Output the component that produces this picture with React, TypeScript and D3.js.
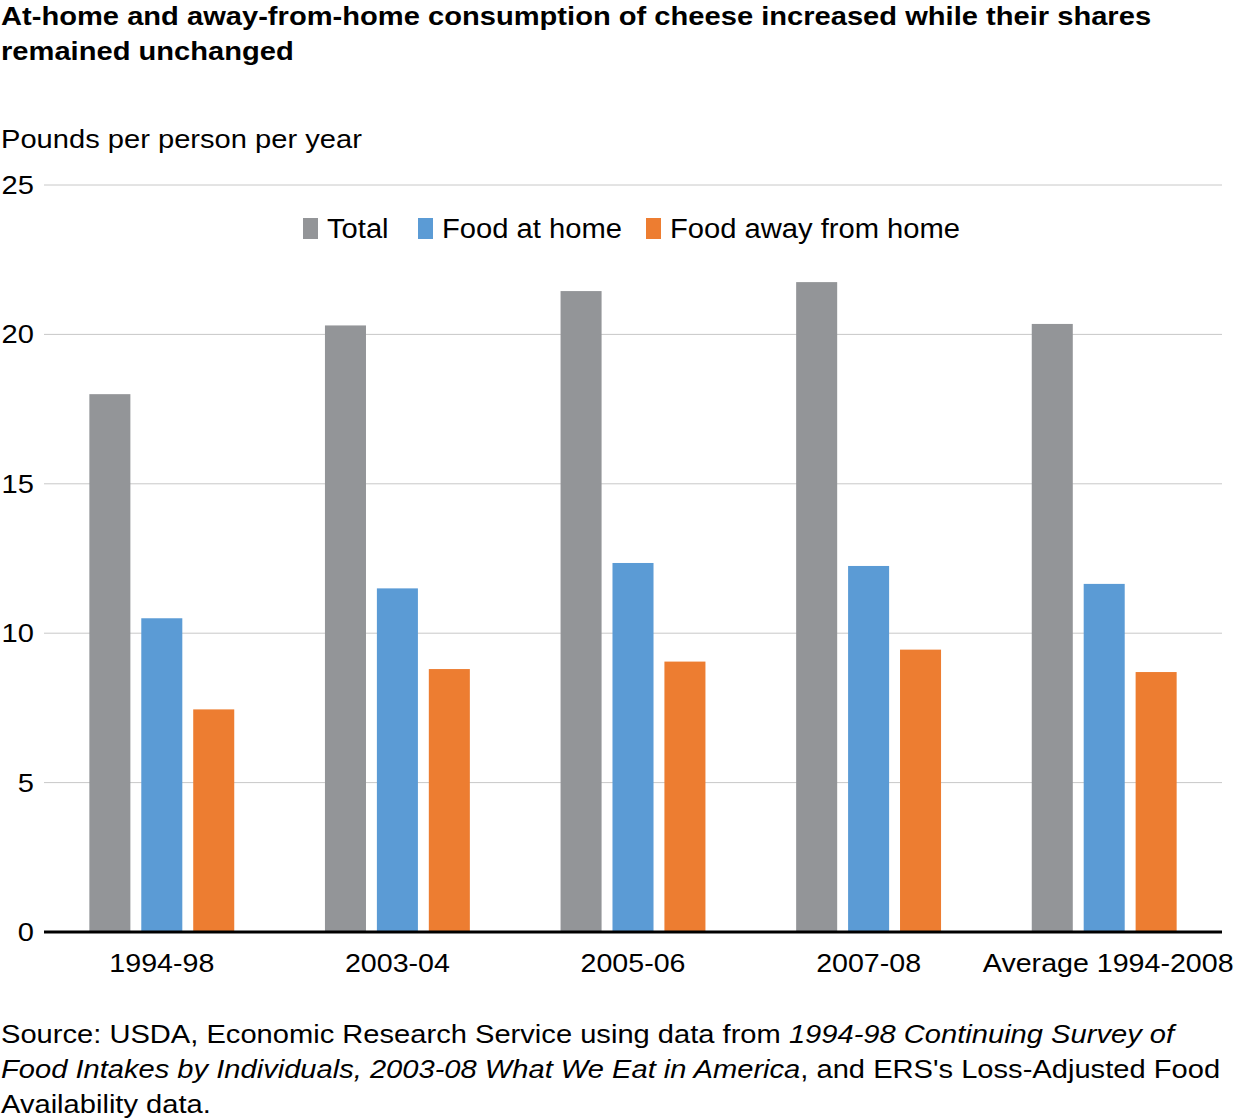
import React, { useEffect, useRef } from 'react';
import * as d3 from 'd3';

const categories = ['1994-98', '2003-04', '2005-06', '2007-08', 'Average 1994-2008'];
const seriesNames = ['Total', 'Food at home', 'Food away from home'];
const totalValues = [18.0, 20.3, 21.45, 21.75, 20.35];
const homeValues = [10.5, 11.5, 12.35, 12.25, 11.65];
const awayValues = [7.45, 8.8, 9.05, 9.45, 8.7];
const yTicks = [0, 5, 10, 15, 20, 25];
const colors = ['#939598', '#5b9bd5', '#ed7d31'];

// reference font is wider than Liberation Sans, so text gets stretched a bit
const SX = 1.12;

const App: React.FC = () => {
  const svgRef = useRef<SVGSVGElement>(null);

  useEffect(() => {
    document.body.style.margin = '0';
    if (!svgRef.current) return;

    const width = 1237;
    const height = 1120;
    const left = 44;
    const right = 1222;
    const top = 185;
    const bottom = 932;
    const font = '"Liberation Sans", Arial, Helvetica, sans-serif';

    const svg = d3.select(svgRef.current);
    svg.selectAll('*').remove();
    svg.attr('width', width).attr('height', height).style('font-family', font);

    const y = d3.scaleLinear().domain([0, 25]).range([bottom, top]);
    const x0 = d3.scaleBand<string>()
      .domain(categories)
      .range([left, right])
      .paddingInner(0.385)
      .paddingOuter(0.1925);
    const x1 = d3.scaleBand<string>()
      .domain(seriesNames)
      .range([0, x0.bandwidth()])
      .paddingInner(0.21)
      .paddingOuter(0);
    const color = d3.scaleOrdinal<string, string>().domain(seriesNames).range(colors);

    const stretch = (x: number, y: number, s = SX) => `translate(${x},${y}) scale(${s},1)`;

    // Title
    const title = svg.append('text')
      .attr('transform', stretch(1, 0))
      .attr('font-size', 26)
      .attr('font-weight', 'bold')
      .attr('fill', '#000');
    title.append('tspan').attr('x', 0).attr('y', 25)
      .text('At-home and away-from-home consumption of cheese increased while their shares');
    title.append('tspan').attr('x', 0).attr('y', 60).text('remained unchanged');

    svg.append('text')
      .attr('transform', stretch(1, 148))
      .attr('font-size', 26)
      .text('Pounds per person per year');

    // Gridlines
    svg.append('g')
      .selectAll('line')
      .data(yTicks.filter(d => d > 0))
      .join('line')
      .attr('x1', left)
      .attr('x2', right)
      .attr('y1', d => y(d))
      .attr('y2', d => y(d))
      .attr('stroke', '#c8c8c8')
      .attr('stroke-width', 1);

    // Y tick labels
    svg.append('g')
      .selectAll('text')
      .data(yTicks)
      .join('text')
      .attr('transform', d => stretch(34, y(d) + 9))
      .attr('text-anchor', 'end')
      .attr('font-size', 26)
      .text(d => d);

    // Bars
    const rows = categories.map((c, i) => ({
      category: c,
      values: [totalValues[i], homeValues[i], awayValues[i]],
    }));

    svg.append('g')
      .selectAll('g')
      .data(rows)
      .join('g')
      .attr('transform', d => `translate(${x0(d.category)},0)`)
      .selectAll('rect')
      .data(d => d.values.map((v, j) => ({ key: seriesNames[j], value: v })))
      .join('rect')
      .attr('x', d => x1(d.key)!)
      .attr('y', d => y(d.value))
      .attr('width', x1.bandwidth())
      .attr('height', d => bottom - y(d.value))
      .attr('fill', d => color(d.key));

    // Axis line
    svg.append('line')
      .attr('x1', left)
      .attr('x2', right)
      .attr('y1', bottom)
      .attr('y2', bottom)
      .attr('stroke', '#000')
      .attr('stroke-width', 3);

    // Category labels
    svg.append('g')
      .selectAll('text')
      .data(categories)
      .join('text')
      .attr('transform', (d, i) =>
        stretch(x0(d)! + x0.bandwidth() / 2 + (i === categories.length - 1 ? 4 : 0), 972, 1.1))
      .attr('text-anchor', 'middle')
      .attr('font-size', 26)
      .text(d => d);

    // Legend
    const legendX = [303, 418, 646];
    const legend = svg.append('g')
      .selectAll('g')
      .data(seriesNames)
      .join('g')
      .attr('transform', (d, i) => `translate(${legendX[i]},218)`);
    legend.append('rect')
      .attr('width', 15)
      .attr('height', 21)
      .attr('fill', d => color(d));
    legend.append('text')
      .attr('transform', stretch(24, 20, 1.08))
      .attr('font-size', 27)
      .text(d => d);

    // Source note
    const src = svg.append('text')
      .attr('transform', stretch(1, 0))
      .attr('font-size', 26)
      .attr('fill', '#000');
    const l1 = src.append('tspan').attr('x', 0).attr('y', 1043);
    l1.append('tspan').text('Source: USDA, Economic Research Service using data from ');
    l1.append('tspan').attr('font-style', 'italic').text('1994-98 Continuing Survey of');
    const l2 = src.append('tspan').attr('x', 0).attr('y', 1078);
    l2.append('tspan').attr('font-style', 'italic').text('Food Intakes by Individuals, 2003-08 What We Eat in America');
    l2.append('tspan').text(", and ERS's Loss-Adjusted Food");
    src.append('tspan').attr('x', 0).attr('y', 1113).text('Availability data.');
  }, []);

  return <svg ref={svgRef} style={{ display: 'block' }} />;
};

export default App;
